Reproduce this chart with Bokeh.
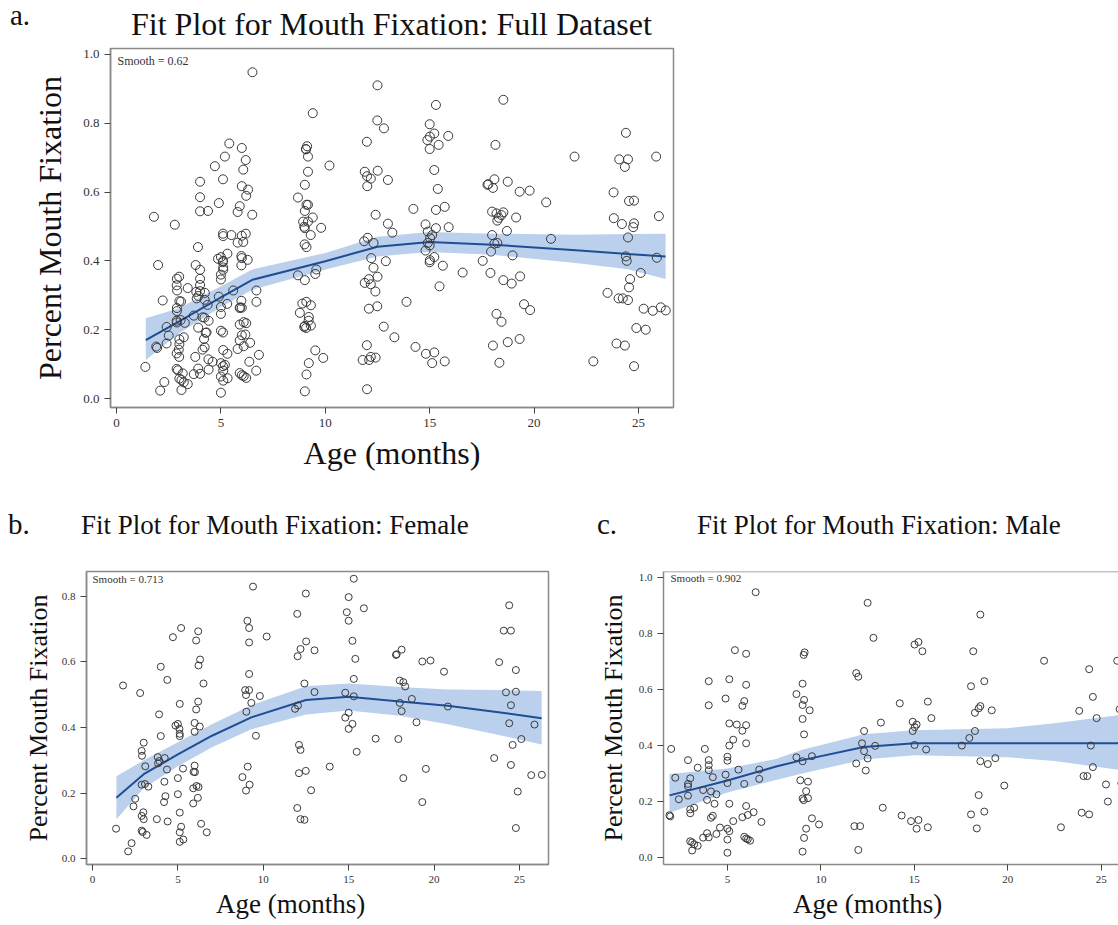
from bokeh.plotting import figure
from bokeh.models import Label, Span, Range1d, FixedTicker, ColumnDataSource, CustomJSTickFormatter, Div
from bokeh.layouts import column, row
from bokeh.embed import file_html
from bokeh.resources import INLINE

# ---------------- data ----------------
female_age = [1.38, 1.79, 2.09, 2.29, 2.40, 2.50, 2.79, 2.88, 2.90, 3.00, 2.88, 3.07, 3.09, 2.98, 3.00,
              2.88, 2.94, 3.17, 2.88, 3.27, 3.82, 3.84, 3.90, 3.92, 4.00, 4.00, 4.23, 4.21, 4.19, 4.27,
              3.77, 4.38, 4.36, 4.40, 4.71, 4.86, 5.00, 5.09, 5.11, 5.11, 5.11, 5.19, 5.00, 5.00, 5.11,
              5.19, 5.11, 5.11, 5.32, 5.30, 6.07, 6.19, 6.30, 6.21, 6.50, 6.19, 6.07, 5.98, 5.98, 6.28,
              5.98, 5.92, 6.00, 5.90, 6.09, 6.21, 6.17, 5.90, 6.36, 6.69,
              9.40, 9.07, 9.17, 9.17, 9.17, 8.94, 9.17, 8.99, 9.30, 9.80, 10.2, 9.01, 9.57, 9.09, 8.78,
              9.20, 8.99, 11.99, 12.49, 12.51, 12.18, 12.01, 13.0, 12.41, 13.0, 11.86, 12.03, 12.09,
              12.18, 12.09, 12.49, 12.80, 11.99, 12.18, 12.41, 13.89, 15.30, 15.0, 14.89, 15.0, 15.89,
              15.22, 15.39, 15.30, 14.80, 15.30, 15.0, 14.80, 15.22, 15.0, 15.47, 16.58,
              17.77, 17.81, 18.10, 17.99, 18.20, 18.31, 18.70, 17.99, 18.10, 17.91, 18.97, 19.31, 19.79,
              20.58, 20.81, 18.20, 19.52, 19.31, 24.40, 24.08, 24.50, 23.81, 24.79, 24.21, 24.79, 24.50,
              24.40, 25.88, 25.11, 24.60, 23.52, 24.50, 25.69, 26.31, 24.90, 24.79]
female_fix = [0.092, 0.528, 0.023, 0.048, 0.160, 0.183, 0.505, 0.329, 0.314, 0.354, 0.226, 0.228, 0.282, 0.142, 0.121,
              0.086, 0.082, 0.073, 0.131, 0.220, 0.310, 0.291, 0.440, 0.298, 0.585, 0.374, 0.307, 0.235, 0.173, 0.191,
              0.121, 0.545, 0.272, 0.114, 0.675, 0.406, 0.411, 0.396, 0.381, 0.374, 0.472, 0.703, 0.246, 0.197, 0.141,
              0.098, 0.081, 0.052, 0.059, 0.275, 0.665, 0.693, 0.607, 0.589, 0.534, 0.479, 0.455, 0.414, 0.387, 0.403,
              0.284, 0.265, 0.264, 0.215, 0.222, 0.219, 0.186, 0.169, 0.107, 0.081,
              0.829, 0.725, 0.703, 0.659, 0.563, 0.514, 0.514, 0.499, 0.475, 0.496, 0.677, 0.448, 0.375, 0.281, 0.249,
              0.226, 0.208, 0.746, 0.808, 0.662, 0.639, 0.617, 0.635, 0.534, 0.508, 0.457, 0.467, 0.347,
              0.332, 0.261, 0.268, 0.209, 0.155, 0.121, 0.119, 0.281, 0.853, 0.797, 0.751, 0.725, 0.763,
              0.664, 0.609, 0.548, 0.506, 0.495, 0.445, 0.430, 0.411, 0.396, 0.326, 0.366,
              0.621, 0.623, 0.637, 0.543, 0.538, 0.525, 0.487, 0.475, 0.450, 0.365, 0.416, 0.601, 0.604,
              0.570, 0.464, 0.246, 0.274, 0.173, 0.772, 0.695, 0.695, 0.599, 0.575, 0.507, 0.509, 0.468,
              0.413, 0.409, 0.365, 0.347, 0.307, 0.286, 0.255, 0.256, 0.205, 0.094]

male_age = [1.90, 1.94, 1.99, 2.21, 2.40, 2.89, 2.89, 2.89, 2.89, 3.01, 3.01, 3.01, 3.22, 3.01, 3.11,
            3.22, 3.11, 3.41, 3.41, 3.70, 3.79, 4.00, 4.00, 4.00, 4.00, 4.00, 3.91, 4.12, 4.22, 4.31,
            4.41, 4.12, 4.22, 3.91, 3.70, 4.00, 4.41, 4.60, 4.90, 5.10, 5.40, 5.10, 5.50, 5.10, 5.31,
            5.00, 5.00, 4.90, 5.00, 5.59, 5.10, 5.00, 5.10, 5.00, 5.00, 5.31, 5.80, 6.00, 6.00, 5.90,
            5.80, 5.80, 6.00, 6.00, 5.90, 6.00, 6.09, 6.40, 5.90, 6.00, 6.09, 6.21, 6.51, 6.70, 6.70, 6.82,
            8.69, 9.02, 9.08, 9.13, 9.10, 9.02, 9.40, 9.02, 9.10, 8.69, 9.02, 9.52, 8.90, 9.31, 9.21,
            9.02, 9.08, 9.31, 9.52, 9.21, 9.90, 9.10, 9.02, 11.89, 12.00, 12.50, 12.81, 12.31, 12.20,
            12.31, 12.50, 12.90, 11.89, 12.40, 13.21, 13.31, 11.79, 12.10, 12.00, 14.22, 14.32, 14.82,
            15.12, 15.22, 15.72, 15.01, 15.22, 15.43, 14.91, 15.12, 15.02, 14.91, 15.01, 15.63, 15.72, 15.91,
            18.53, 18.15, 18.74, 18.03, 18.53, 18.44, 18.24, 19.14, 18.24, 17.94, 17.54, 18.53, 18.93,
            19.33, 19.81, 18.44, 18.03, 18.74, 18.34, 21.94, 22.84, 24.35, 24.55, 23.82, 24.75, 24.44,
            24.55, 24.05, 24.25, 25.25, 25.35, 23.95, 24.35, 25.85, 25.98, 26.07]
male_fix = [0.151, 0.147, 0.388, 0.285, 0.208, 0.348, 0.263, 0.254, 0.221, 0.283, 0.172, 0.158, 0.178, 0.058, 0.054,
            0.047, 0.025, 0.042, 0.321, 0.241, 0.388, 0.348, 0.330, 0.312, 0.630, 0.544, 0.206, 0.236, 0.287, 0.192,
            0.226, 0.142, 0.149, 0.087, 0.071, 0.072, 0.084, 0.107, 0.568, 0.637, 0.741, 0.479, 0.475, 0.400, 0.421,
            0.360, 0.346, 0.296, 0.266, 0.314, 0.192, 0.103, 0.094, 0.064, 0.017, 0.130, 0.144, 0.728, 0.617, 0.559,
            0.542, 0.453, 0.473, 0.408, 0.263, 0.184, 0.152, 0.162, 0.074, 0.068, 0.065, 0.060, 0.948, 0.314, 0.281, 0.127,
            0.584, 0.621, 0.724, 0.733, 0.563, 0.545, 0.526, 0.495, 0.440, 0.358, 0.344, 0.362, 0.276, 0.271, 0.237,
            0.211, 0.205, 0.212, 0.140, 0.103, 0.118, 0.070, 0.021, 0.659, 0.646, 0.910, 0.785, 0.452, 0.408,
            0.380, 0.354, 0.399, 0.336, 0.311, 0.482, 0.178, 0.112, 0.112, 0.027, 0.551, 0.150, 0.130,
            0.103, 0.134, 0.108, 0.761, 0.770, 0.737, 0.485, 0.475, 0.466, 0.452, 0.402, 0.386, 0.557, 0.498,
            0.868, 0.737, 0.630, 0.612, 0.541, 0.533, 0.517, 0.526, 0.452, 0.427, 0.400, 0.344, 0.334,
            0.355, 0.257, 0.223, 0.154, 0.164, 0.104, 0.703, 0.108, 0.673, 0.574, 0.524, 0.498, 0.400,
            0.323, 0.291, 0.291, 0.261, 0.200, 0.160, 0.154, 0.703, 0.530, 0.265]

full_age = female_age + male_age
full_fix = female_fix + male_fix

# loess fits: age, fit, lower CL, upper CL
full_fit_age = [1.4, 3, 5, 6.5, 10, 12.5, 15, 18, 22, 24.5, 26.3]
full_fit = [0.170, 0.224, 0.294, 0.345, 0.399, 0.441, 0.455, 0.447, 0.431, 0.420, 0.413]
full_lo = [0.112, 0.190, 0.266, 0.316, 0.375, 0.413, 0.426, 0.418, 0.394, 0.376, 0.347]
full_hi = [0.233, 0.262, 0.326, 0.375, 0.423, 0.470, 0.484, 0.479, 0.476, 0.478, 0.479]

fem_fit_age = [1.4, 3, 5, 7, 9.3, 12.5, 15, 18, 20.8, 24, 26.3]
fem_fit = [0.186, 0.258, 0.318, 0.375, 0.431, 0.484, 0.494, 0.479, 0.466, 0.445, 0.428]
fem_lo = [0.121, 0.215, 0.282, 0.340, 0.395, 0.440, 0.452, 0.436, 0.410, 0.375, 0.348]
fem_hi = [0.252, 0.300, 0.355, 0.410, 0.468, 0.526, 0.534, 0.523, 0.516, 0.514, 0.511]

male_fit_age = [1.9, 5, 7.6, 9, 12.3, 15, 17.5, 20, 22.5, 26.3]
male_fit = [0.222, 0.275, 0.325, 0.348, 0.395, 0.408, 0.408, 0.408, 0.408, 0.408]
male_lo = [0.160, 0.232, 0.277, 0.300, 0.350, 0.365, 0.362, 0.358, 0.345, 0.310]
male_hi = [0.298, 0.318, 0.352, 0.385, 0.440, 0.455, 0.458, 0.462, 0.480, 0.512]

x_ticks = [0, 5, 10, 15, 20, 25]
y_ticks_full = [0.0, 0.2, 0.4, 0.6, 0.8, 1.0]
y_ticks_fem = [0.0, 0.2, 0.4, 0.6, 0.8]

FONT = "Liberation Serif"
FRAME = "#8a8a8a"
LINE = "#1f4e96"
BAND = "#b3cbea"
PT = "#3a3a3a"


def panel(width, height, xr, yr, borders, yticks, tick_size, axis_size, ylabel, ystandoff, xlabel,
          ages, fixes, fa, fy, flo, fhi, smooth, smooth_pos, smooth_size, pt_size, outline=True):
    p = figure(width=width, height=height, x_range=Range1d(*xr), y_range=Range1d(*yr),
               output_backend="svg", toolbar_location=None,
               min_border_left=borders[0], min_border_right=borders[1],
               min_border_top=borders[2], min_border_bottom=borders[3])
    p.grid.visible = False
    p.background_fill_color = "white"
    p.border_fill_color = "white"
    p.outline_line_color = FRAME if outline else None
    p.outline_line_width = 1.5
    src = ColumnDataSource(dict(x=fa, lo=flo, hi=fhi, y=fy))
    p.varea(x="x", y1="lo", y2="hi", source=src, fill_color=BAND, fill_alpha=0.9)
    p.line(x="x", y="y", source=src, line_color=LINE, line_width=2)
    p.scatter(ages, fixes, marker="circle", size=pt_size, fill_color=None,
              line_color=PT, line_width=1)
    for ax in (p.xaxis[0], p.yaxis[0]):
        ax.axis_line_color = FRAME
        ax.axis_line_width = 1.5
        ax.major_tick_line_color = "#444444"
        ax.minor_tick_line_color = None
        ax.major_tick_in = 0
        ax.major_tick_out = 6
        ax.major_label_standoff = 5
        ax.major_label_text_font = FONT
        ax.major_label_text_font_size = f"{tick_size}px"
        ax.major_label_text_color = "#333333"
        ax.axis_label_text_font = FONT
        ax.axis_label_text_font_style = "normal"
        ax.axis_label_text_font_size = f"{axis_size}px"
        ax.axis_label_text_color = "#111111"
    p.xaxis[0].ticker = FixedTicker(ticks=x_ticks)
    p.yaxis[0].ticker = FixedTicker(ticks=yticks)
    p.yaxis[0].formatter = CustomJSTickFormatter(code="return tick.toFixed(1);")
    p.yaxis[0].axis_label = ylabel
    p.yaxis[0].axis_label_standoff = ystandoff
    if xlabel:
        p.xaxis[0].axis_label = xlabel
        p.xaxis[0].axis_label_standoff = 5
    p.add_layout(Label(x=smooth_pos[0], y=smooth_pos[1], x_units="screen", y_units="screen",
                       text=smooth, text_font=FONT, text_font_size=f"{smooth_size}px",
                       text_color="#333333"))
    return p


def text_div(width, height, items):
    spans = "".join(
        f'<span style="position:absolute; left:{l}px; top:{t}px; font-family:\'{FONT}\', serif; '
        f'font-size:{s}px; line-height:1; white-space:nowrap; color:#111111;">{txt}</span>'
        for (txt, l, t, s) in items)
    html = f'<div style="position:relative; width:{width}px; height:{height}px;">{spans}</div>'
    return Div(text=html, width=width, height=height, margin=0)


# top header (panel a labels)
head_a = text_div(1118, 44, [("a.", 10, 1, 29),
                             ("Fit Plot for Mouth Fixation: Full Dataset", 131, 8, 32)])

# panel a
pa = panel(1118, 436, (-0.29, 26.68), (-0.026, 1.017), (110, 445, 4, 73), y_ticks_full, 13, 32,
           "Percent Mouth Fixation", 12, "Age (months)", full_age, full_fix,
           full_fit_age, full_fit, full_lo, full_hi, "Smooth = 0.62", (7, 340), 12, 9)

# header for b and c
head_bc = text_div(1118, 85, [("b.", 8, 30, 29),
                              ("Fit Plot for Mouth Fixation: Female", 81, 32, 27),
                              ("c.", 597, 30, 29),
                              ("Fit Plot for Mouth Fixation: Male", 697, 32, 27)])

# panel b
pb = panel(590, 325, (-0.35, 26.7), (-0.017, 0.875), (86, 42, 4, 26), y_ticks_fem, 11, 26,
           "Percent Mouth Fixation", 6, None, female_age, female_fix,
           fem_fit_age, fem_fit, fem_lo, fem_hi, "Smooth = 0.713", (6, 280), 11, 7)

# panel c
pc = panel(528, 325, (1.58, 25.92), (-0.025, 1.022), (73, 0, 6, 23), y_ticks_full, 11, 26,
           "Percent Mouth Fixation", 8, None, male_age, male_fix,
           male_fit_age, male_fit, male_lo, male_hi, "Smooth = 0.902", (7, 281), 11, 7, outline=False)
pc.add_layout(Span(location=1.022, dimension="width", line_color=FRAME, line_width=1.5))

# x axis titles for b and c
foot_bc = text_div(1118, 35, [("Age (months)", 216, 1, 27),
                              ("Age (months)", 793, 1, 27)])

layout = column(head_a, pa, head_bc, row(pb, pc, spacing=0), foot_bc, spacing=0)
open("out.html", "w").write(file_html(layout, INLINE))
